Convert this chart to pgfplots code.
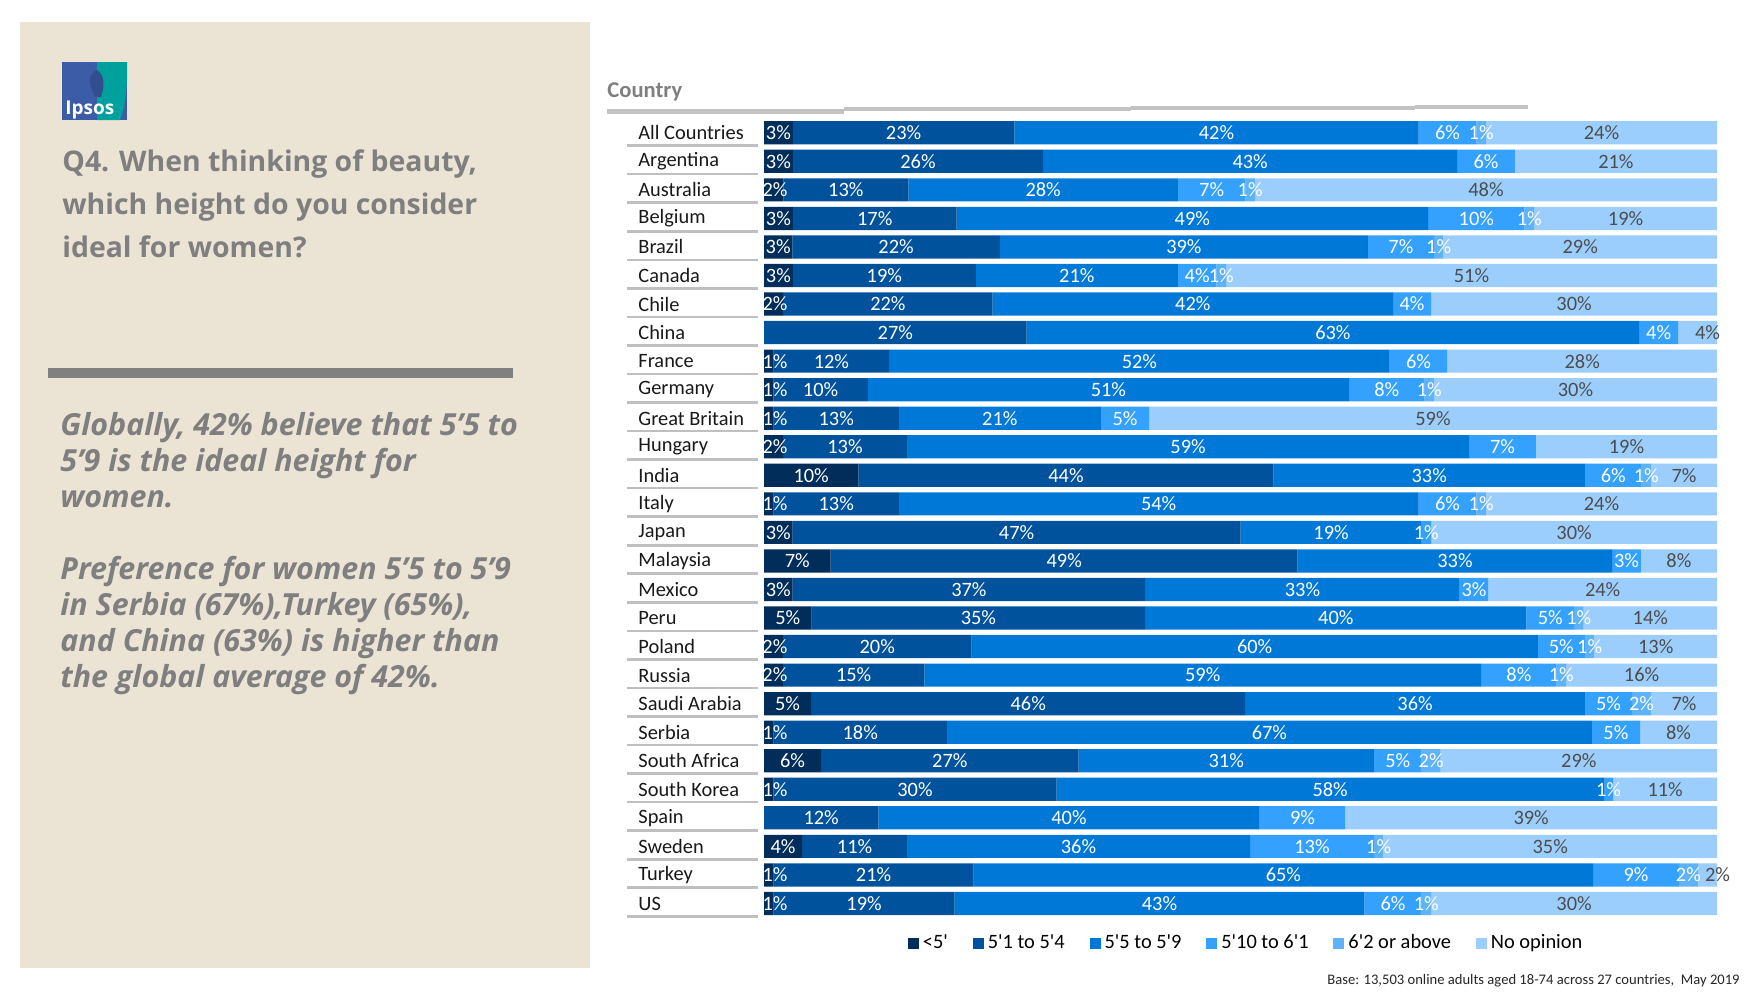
\documentclass[border=0pt]{standalone}
\usepackage{pgfplots}
\pgfplotsset{compat=1.18}
\usepackage{pgfplotstable}
\usepackage{fontspec}
\setmainfont{Carlito}
\newfontfamily\panelfont{Open Sans}
\definecolor{cA}{HTML}{002D5A}
\definecolor{cB}{HTML}{00529C}
\definecolor{cC}{HTML}{0078D7}
\definecolor{cD}{HTML}{33A1FD}
\definecolor{cE}{HTML}{5DB2F8}
\definecolor{cF}{HTML}{9BCEFC}
\definecolor{panel}{RGB}{235,228,213}
\definecolor{ptext}{HTML}{7F7F7F}
\definecolor{rulegray}{HTML}{808080}
\definecolor{hdr}{HTML}{C3C3C3}
\definecolor{sepgray}{HTML}{BFBFBF}
\definecolor{labgray}{HTML}{4D4D4D}
\definecolor{logoblue}{HTML}{3C5CA8}
\definecolor{logoteal}{HTML}{00A09C}
\pgfplotstableread{
i a b c d e f t
0 3 23 42 6 1 24 99
1 3 26 43 6 0 21 99
2 2 13 28 7 1 48 99
3 3 17 49 10 1 19 99
4 3 22 39 7 1 29 101
5 3 19 21 4 1 51 99
6 2 22 42 4 0 30 100
7 0 27 63 4 0 4 98
8 1 12 52 6 0 28 99
9 1 10 51 8 1 30 101
10 1 13 21 5 0 59 99
11 2 13 59 7 0 19 100
12 10 44 33 6 1 7 101
13 1 13 54 6 1 24 99
14 3 47 19 1 0 30 100
15 7 49 33 3 0 8 100
16 3 37 33 3 0 24 100
17 5 35 40 5 1 14 100
18 2 20 60 5 1 13 101
19 2 15 59 8 1 16 101
20 5 46 36 5 2 7 101
21 1 18 67 5 0 8 99
22 6 27 31 5 2 29 100
23 1 30 58 1 0 11 101
24 0 12 40 9 0 39 100
25 4 11 36 13 1 35 100
26 1 21 65 9 2 2 100
27 1 19 43 6 1 30 100
}\data
\begin{document}
\begin{tikzpicture}[x=0.5pt,y=-0.5pt]
\path[use as bounding box] (0,0) rectangle (1764,992);
\fill[white] (0,0) rectangle (1764,992);
% left panel
\fill[panel] (20,22) rectangle (590,968);
% logo
\fill[logoblue] (62,62) rectangle (127,120);
\fill[logoteal] (97,62) -- (127,62) -- (127,80) .. controls (126,98) and (124,110) .. (120,120) -- (97,120) -- cycle;
\fill[logoblue!85!black] (97,70) .. controls (90,72) and (88,82) .. (92,90) -- (95,97) -- (101,97) .. controls (104,88) and (106,76) .. (97,70) -- cycle;
\node[anchor=base west, inner sep=0, text=white, font=\panelfont\bfseries\fontsize{9.5}{11}\selectfont] at (65,114) {Ipsos};
% title
\begin{scope}[every node/.style={anchor=base west, inner sep=0, text=ptext}]
\node[font=\panelfont\bfseries\fontsize{14.2}{17}\selectfont] at (62,171) {Q4. When thinking of beauty,};
\node[font=\panelfont\bfseries\fontsize{14.2}{17}\selectfont] at (62,214) {which height do you consider};
\node[font=\panelfont\bfseries\fontsize{14.2}{17}\selectfont] at (62,257) {ideal for women?};
\node[font=\panelfont\bfseries\itshape\fontsize{15.2}{18}\selectfont] at (60,435) {Globally, 42\% believe that 5’5 to};
\node[font=\panelfont\bfseries\itshape\fontsize{15.2}{18}\selectfont] at (60,471) {5’9 is the ideal height for};
\node[font=\panelfont\bfseries\itshape\fontsize{15.2}{18}\selectfont] at (60,507) {women.};
\node[font=\panelfont\bfseries\itshape\fontsize{15.2}{18}\selectfont] at (60,579) {Preference for women 5’5 to 5’9};
\node[font=\panelfont\bfseries\itshape\fontsize{15.2}{18}\selectfont] at (60,615) {in Serbia (67\%),Turkey (65\%),};
\node[font=\panelfont\bfseries\itshape\fontsize{15.2}{18}\selectfont] at (60,651) {and China (63\%) is higher than};
\node[font=\panelfont\bfseries\itshape\fontsize{15.2}{18}\selectfont] at (60,687) {the global average of 42\%.};
\end{scope}
\fill[rulegray] (48,368) rectangle (513,378);
% chart header
\node[anchor=base west, inner sep=0, text=ptext, font=\bfseries\fontsize{11.3}{13}\selectfont] at (607,97) {Country};
\draw[hdr, line width=2.25pt] (607,111.5) -- (844,111.5);
\draw[hdr, line width=2.25pt] (844,109) -- (1131,109);
\draw[hdr, line width=2.25pt] (1131,108) -- (1415,108);
\draw[hdr, line width=2.25pt] (1415,107) -- (1528,107);
% base note
\node[anchor=base east, inner sep=0, text=black!85, font=\fontsize{7.3}{8.5}\selectfont] at (1740,984) {Base: 13,503 online adults aged 18-74 across 27 countries,\ \ May 2019};
\coordinate (A) at (764,118.5);
\begin{axis}[
  at={(A)}, anchor=north west,
  scale only axis, width=476.5pt, height=399.6pt,
  xbar stacked, bar width=11.6pt,
  xmin=0, xmax=100, ymin=-0.5, ymax=27.5, y dir=reverse,
  axis line style={draw=none}, major tick length=0pt,
  xtick=\empty, ytick={0,...,27},
  yticklabels={All Countries,Argentina,Australia,Belgium,Brazil,Canada,Chile,China,France,Germany,Great Britain,Hungary,India,Italy,Japan,Malaysia,Mexico,Peru,Poland,Russia,Saudi Arabia,Serbia,South Africa,South Korea,Spain,Sweden,Turkey,US},
  yticklabel style={anchor=west, inner sep=0pt, xshift=-63pt, font=\fontsize{10.2}{12}\selectfont, text=black!90},
  clip=false,
  point meta=explicit symbolic,
  nodes near coords={\ifnum\pgfplotspointmeta>0 \pgfplotspointmeta\%\fi},
  nodes near coords align={center},
  every node near coord/.style={anchor=center, inner sep=0pt, text=white, font=\fontsize{10.2}{12}\selectfont},
  legend columns=6,
  legend style={at={(0.507,-0.032)}, anchor=center, draw=none, fill=none, font=\fontsize{10.2}{12}\selectfont, /tikz/every even column/.append style={column sep=10.4pt}},
  legend image code/.code={\fill[#1] (0pt,-2.8pt) rectangle (5.5pt,2.8pt);},
]
\addplot[fill=cA, draw=none, every node near coord/.append style={xshift={ifthenelse(\pgfplotspointmeta<3,5.5-\pgfplotspointmeta*2.3825,0)}}] table[x expr=\thisrow{a}*100/\thisrow{t}, y=i, meta=a] {\data};
\addlegendentry{<5\textquotesingle}
\addplot[fill=cB, draw=none] table[x expr=\thisrow{b}*100/\thisrow{t}, y=i, meta=b] {\data};
\addlegendentry{5\textquotesingle 1 to 5\textquotesingle 4}
\addplot[fill=cC, draw=none] table[x expr=\thisrow{c}*100/\thisrow{t}, y=i, meta=c] {\data};
\addlegendentry{5\textquotesingle 5 to 5\textquotesingle 9}
\addplot[fill=cD, draw=none] table[x expr=\thisrow{d}*100/\thisrow{t}, y=i, meta=d] {\data};
\addlegendentry{5\textquotesingle 10 to 6\textquotesingle 1}
\addplot[fill=cE, draw=none] table[x expr=\thisrow{e}*100/\thisrow{t}, y=i, meta=e] {\data};
\addlegendentry{6\textquotesingle 2 or above}
\addplot[fill=cF, draw=none, every node near coord/.append style={text=labgray, xshift={ifthenelse(\pgfplotspointmeta<5,5,0)}}] table[x expr=\thisrow{f}*100/\thisrow{t}, y=i, meta=f] {\data};
\addlegendentry{No opinion}
\pgfplotsinvokeforeach{0,...,27}{\draw[sepgray, line width=1.3pt] (axis cs:-14.4,#1+0.45) -- (axis cs:-0.63,#1+0.45);}
\end{axis}
\end{tikzpicture}
\end{document}
